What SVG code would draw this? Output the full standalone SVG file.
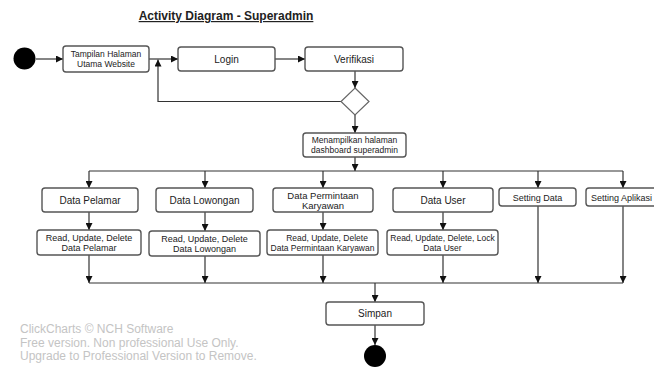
<svg xmlns="http://www.w3.org/2000/svg" width="654" height="367" viewBox="0 0 654 367">
  <style>
    .box { fill: #ffffff; stroke: #555555; stroke-width: 1.4; }
    .lbl { font-family: "Liberation Sans", Arial, sans-serif; fill: #222222; text-anchor: middle; }
    .f10 { font-size: 10px; }
    .f95 { font-size: 9.5px; }
    .f9 { font-size: 9px; }
    .f85 { font-size: 8.5px; }
    .conn { fill: none; stroke: #333333; stroke-width: 1.2; }
    .mark { font-family: "Liberation Sans", Arial, sans-serif; font-size: 12px; fill: #c4c4c4; }
  </style>
  <defs>
    <marker id="arrow" viewBox="0 0 10 10" refX="10" refY="5" markerWidth="7" markerHeight="7" markerUnits="userSpaceOnUse" orient="auto">
      <path d="M0,0 L10,5 L0,10 z" fill="#111111"/>
    </marker>
  </defs>
  <rect width="654" height="367" fill="#ffffff"/>

  <text x="226" y="20" font-family="Liberation Sans, Arial, sans-serif" font-size="12" font-weight="bold" fill="#222222" text-anchor="middle" text-decoration="underline">Activity Diagram - Superadmin</text>

  <g id="connectors">
    <path class="conn" d="M36,59 H63" marker-end="url(#arrow)"/>
    <path class="conn" d="M149,59 H178" marker-end="url(#arrow)"/>
    <path class="conn" d="M275,59 H305" marker-end="url(#arrow)"/>
    <path class="conn" d="M355,71 V88" marker-end="url(#arrow)"/>
    <path class="conn" d="M341,101.5 H158 V59.5" marker-end="url(#arrow)"/>
    <path class="conn" d="M355,115 V133" marker-end="url(#arrow)"/>
    <path class="conn" d="M355,157 V171" marker-end="url(#arrow)"/>
    <path class="conn" d="M89,171 H623"/>
    <path class="conn" d="M89,171 V188" marker-end="url(#arrow)"/>
    <path class="conn" d="M205,171 V188" marker-end="url(#arrow)"/>
    <path class="conn" d="M323,171 V188" marker-end="url(#arrow)"/>
    <path class="conn" d="M443,171 V188" marker-end="url(#arrow)"/>
    <path class="conn" d="M538,171 V188" marker-end="url(#arrow)"/>
    <path class="conn" d="M623,171 V188" marker-end="url(#arrow)"/>
    <path class="conn" d="M89,212 V230" marker-end="url(#arrow)"/>
    <path class="conn" d="M205,212 V231" marker-end="url(#arrow)"/>
    <path class="conn" d="M323,212 V230" marker-end="url(#arrow)"/>
    <path class="conn" d="M443,212 V230" marker-end="url(#arrow)"/>
    <path class="conn" d="M89,255 V283" marker-end="url(#arrow)"/>
    <path class="conn" d="M205,256 V283" marker-end="url(#arrow)"/>
    <path class="conn" d="M323,255 V283" marker-end="url(#arrow)"/>
    <path class="conn" d="M443,255 V283" marker-end="url(#arrow)"/>
    <path class="conn" d="M538,206 V283" marker-end="url(#arrow)"/>
    <path class="conn" d="M623,206 V283" marker-end="url(#arrow)"/>
    <path class="conn" d="M89,283 H623"/>
    <path class="conn" d="M375,283 V302" marker-end="url(#arrow)"/>
    <path class="conn" d="M375,325 V345" marker-end="url(#arrow)"/>
  </g>

  <g id="start">
    <circle cx="24.5" cy="58.5" r="11" fill="#000000"/>
  </g>

  <g id="tampilan">
    <rect class="box" x="63" y="46" width="86" height="26" rx="3"/>
    <text class="lbl f85" x="106" y="57">Tampilan Halaman</text>
    <text class="lbl f85" x="106" y="67">Utama Website</text>
  </g>

  <g id="login">
    <rect class="box" x="178" y="47" width="97" height="24" rx="3"/>
    <text class="lbl f10" x="226.5" y="62.5">Login</text>
  </g>

  <g id="verifikasi">
    <rect class="box" x="305" y="47" width="98" height="24" rx="3"/>
    <text class="lbl f10" x="354" y="62.5">Verifikasi</text>
  </g>

  <g id="decision">
    <polygon points="355,88 369,101.5 355,115 341,101.5" fill="#ffffff" stroke="#666666" stroke-width="1.2"/>
  </g>

  <g id="dashboard">
    <rect class="box" x="303" y="133" width="103" height="24" rx="3"/>
    <text class="lbl f85" x="354.5" y="143">Menampilkan halaman</text>
    <text class="lbl f85" x="354.5" y="153">dashboard superadmin</text>
  </g>

  <g id="data-pelamar">
    <rect class="box" x="42" y="188" width="96" height="24" rx="3"/>
    <text class="lbl f10" x="90" y="203.5">Data Pelamar</text>
  </g>

  <g id="data-lowongan">
    <rect class="box" x="156" y="188" width="97" height="24" rx="3"/>
    <text class="lbl f10" x="204.5" y="203.5">Data Lowongan</text>
  </g>

  <g id="data-permintaan">
    <rect class="box" x="273" y="188" width="100" height="24" rx="3"/>
    <text class="lbl f95" x="323" y="198.5">Data Permintaan</text>
    <text class="lbl f95" x="323" y="209">Karyawan</text>
  </g>

  <g id="data-user">
    <rect class="box" x="393" y="188" width="100" height="24" rx="3"/>
    <text class="lbl f10" x="443" y="203.5">Data User</text>
  </g>

  <g id="setting-data">
    <rect class="box" x="499" y="188" width="77" height="18" rx="3"/>
    <text class="lbl f9" x="537.5" y="200.5">Setting Data</text>
  </g>

  <g id="setting-aplikasi">
    <rect class="box" x="586" y="188" width="80" height="18" rx="3"/>
    <text class="lbl f9" x="591" y="200.5" style="text-anchor:start">Setting Aplikasi</text>
  </g>

  <g id="rud-pelamar">
    <rect class="box" x="37" y="230" width="104" height="25" rx="3"/>
    <text class="lbl f9" x="89" y="240.5">Read, Update, Delete</text>
    <text class="lbl f9" x="89" y="251">Data Pelamar</text>
  </g>

  <g id="rud-lowongan">
    <rect class="box" x="149" y="231" width="111" height="25" rx="3"/>
    <text class="lbl f9" x="204.5" y="241.5">Read, Update, Delete</text>
    <text class="lbl f9" x="204.5" y="252">Data Lowongan</text>
  </g>

  <g id="rud-permintaan">
    <rect class="box" x="267" y="230" width="111" height="25" rx="3"/>
    <text class="lbl f85" x="327" y="240.5">Read, Update, Delete</text>
    <text class="lbl f85" x="322.5" y="251">Data Permintaan Karyawan</text>
  </g>

  <g id="rudl-user">
    <rect class="box" x="387" y="230" width="111" height="25" rx="3"/>
    <text class="lbl f85" x="442.5" y="240.5">Read, Update, Delete, Lock</text>
    <text class="lbl f85" x="442.5" y="251">Data User</text>
  </g>

  <g id="simpan">
    <rect class="box" x="326" y="302" width="98" height="23" rx="3"/>
    <text class="lbl f10" x="375" y="317">Simpan</text>
  </g>

  <g id="end">
    <circle cx="375" cy="356" r="11" fill="#000000"/>
  </g>

  <text class="mark" x="20" y="333">ClickCharts © NCH Software</text>
  <text class="mark" x="20" y="346.5">Free version. Non professional Use Only.</text>
  <text class="mark" x="20" y="360">Upgrade to Professional Version to Remove.</text>
</svg>
